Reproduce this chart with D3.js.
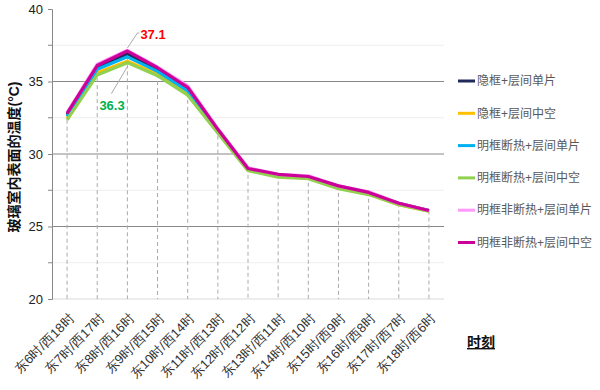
<!DOCTYPE html>
<html><head><meta charset="utf-8">
<script src="https://cdn.jsdelivr.net/npm/d3@7"></script>
<style>body{margin:0;background:#fff}svg{display:block;font-family:"Liberation Sans",Arial,"Noto Sans CJK SC",sans-serif}</style>
</head><body><div id="chart"></div>
<script>
const categories = ["东6时/西18时","东7时/西17时","东8时/西16时","东9时/西15时","东10时/西14时","东11时/西13时","东12时/西12时","东13时/西11时","东14时/西10时","东15时/西9时","东16时/西8时","东17时/西7时","东18时/西6时"];
const seriesNames = ["隐框+层间单片","隐框+层间中空","明框断热+层间单片","明框断热+层间中空","明框非断热+层间单片","明框非断热+层间中空"];
const seriesColors = ["#1f2a5a","#ffc000","#00b0f0","#92d050","#ff99ff","#cc0099"];
const s1 = [32.7,36.0,36.9,35.8,34.5,31.65,29.0,28.55,28.45,27.75,27.35,26.6,26.1];
const s2 = [32.45,35.6,36.4,35.5,34.15,31.5,28.9,28.45,28.35,27.65,27.25,26.5,26.05];
const s3 = [32.6,35.85,36.7,35.7,34.35,31.6,28.95,28.5,28.4,27.7,27.3,26.55,26.1];
const s4 = [32.35,35.45,36.3,35.4,34.05,31.45,28.85,28.4,28.3,27.6,27.2,26.5,26.05];
const s5 = [32.85,36.2,37.15,36.0,34.7,31.75,29.05,28.6,28.5,27.8,27.4,26.6,26.1];
const s6 = [32.8,36.1,37.1,35.95,34.6,31.7,29.0,28.6,28.45,27.8,27.35,26.6,26.1];
const seriesValues = [s1,s2,s3,s4,s5,s6];
const yTicks = [20,25,30,35,40];
const yMinor = [22.5,27.5,32.5,37.5];
const annotations = [{text:"37.1", value:37.1, cat:2, color:"#ff0000"},{text:"36.3", value:36.3, cat:2, color:"#00b050"}];

const W=600,H=390;
const svg=d3.select("#chart").append("svg").attr("width",W).attr("height",H);
const x=d3.scalePoint().domain(categories).range([52,444]).padding(0.5);
const y=d3.scaleLinear().domain([20,40]).range([299,9]);

svg.append("g").selectAll("line").data(yMinor).join("line")
 .attr("x1",52).attr("x2",444).attr("y1",d=>y(d)).attr("y2",d=>y(d)).attr("stroke","#eeeeee");
svg.append("g").selectAll("line").data([25,30,35]).join("line")
 .attr("x1",52).attr("x2",444).attr("y1",d=>y(d)).attr("y2",d=>y(d)).attr("stroke","#888");
svg.append("line").attr("x1",52).attr("x2",444).attr("y1",y(20)).attr("y2",y(20)).attr("stroke","#d9d9d9");

svg.append("g").selectAll("line").data(categories).join("line")
 .attr("x1",d=>x(d)).attr("x2",d=>x(d))
 .attr("y1",(d,i)=>y(d3.max(seriesValues,s=>s[i]))).attr("y2",y(20))
 .attr("stroke","#aaa").attr("stroke-dasharray","4,3");

const ya=svg.append("g").attr("transform","translate(52,0)")
 .call(d3.axisLeft(y).tickValues(yTicks).tickSize(4).tickPadding(5).tickFormat(d3.format("d")));
ya.select(".domain").attr("stroke","#888");
ya.selectAll(".tick line").attr("stroke","#888");
ya.selectAll("text").attr("font-size",13).attr("fill","#222");
svg.append("g").selectAll("line").data(yMinor).join("line")
 .attr("x1",48).attr("x2",52).attr("y1",d=>y(d)).attr("y2",d=>y(d)).attr("stroke","#888");

const xa=svg.append("g").attr("transform",`translate(0,${y(20)})`)
 .call(d3.axisBottom(x).tickSize(0).tickPadding(0));
xa.select(".domain").remove();
xa.selectAll("text").attr("font-size",13).attr("fill","#333")
 .attr("text-anchor","end").attr("dy","0.35em")
 .attr("transform","translate(4,17) rotate(-45)");

const line=d3.line().x((d,i)=>x(categories[i])).y(d=>y(d));
svg.append("g").selectAll("path").data(seriesValues).join("path")
 .attr("d",d=>line(d)).attr("fill","none")
 .attr("stroke",(d,i)=>seriesColors[i]).attr("stroke-width",3.2).attr("stroke-linejoin","round");

const a0=annotations[0], a1=annotations[1];
const cx=x(categories[a0.cat]);
svg.append("path").attr("d",`M${cx},${y(a0.value)-3} L${cx+10},${y(a0.value)-18} L${cx+12},${y(a0.value)-18}`)
 .attr("fill","none").attr("stroke","#aaa");
svg.append("text").attr("x",cx+13).attr("y",y(a0.value)-12).text(a0.text)
 .attr("fill",a0.color).attr("font-weight","bold").attr("font-size",13);
svg.append("path").attr("d",`M${cx},${y(a1.value)+4} L${cx-16},${y(a1.value)+31}`)
 .attr("fill","none").attr("stroke","#aaa");
svg.append("text").attr("x",cx-28).attr("y",y(a1.value)+47).text(a1.text)
 .attr("fill",a1.color).attr("font-weight","bold").attr("font-size",13);

const lg=svg.append("g").selectAll("g").data(seriesNames).join("g")
 .attr("transform",(d,i)=>`translate(458,${81+i*32.3})`);
lg.append("line").attr("x1",0).attr("x2",17).attr("stroke",(d,i)=>seriesColors[i]).attr("stroke-width",3);
lg.append("text").attr("x",19).attr("dy","0.35em").text(d=>d).attr("font-size",12).attr("fill","#595959");

svg.append("text").attr("transform","translate(19,157) rotate(-90)").attr("text-anchor","middle")
 .attr("font-size",14).attr("font-weight","bold").attr("fill","#111").text("玻璃室内表面的温度(°C)");
svg.append("text").attr("x",467).attr("y",347).attr("font-size",14).attr("font-weight","bold")
 .attr("fill","#111").attr("text-decoration","underline").text("时刻");
</script></body></html>
